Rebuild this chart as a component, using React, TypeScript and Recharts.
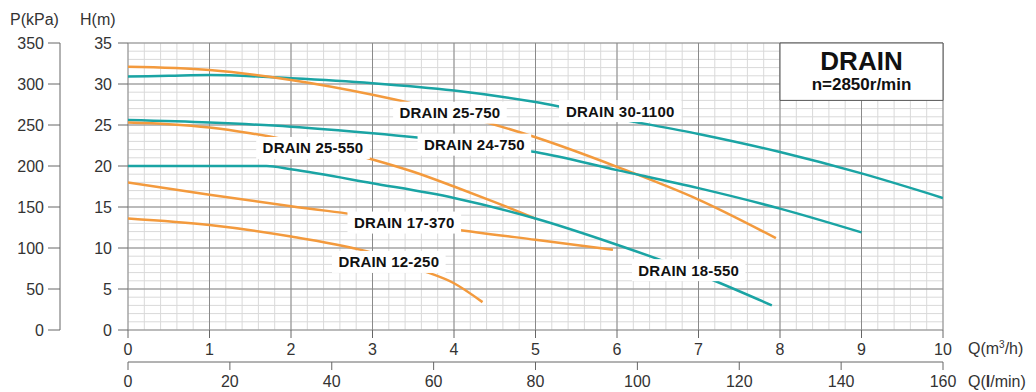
import {
  LineChart,
  Line,
  XAxis,
  YAxis,
  CartesianGrid,
  ReferenceArea,
  ReferenceDot
} from "recharts";

// pump curves, Q in m3/h, H in m
const drain301100 = [
  { q: 0, h: 30.9 }, { q: 0.5, h: 31.0 }, { q: 1, h: 31.1 }, { q: 2, h: 30.7 },
  { q: 3, h: 30.1 }, { q: 4, h: 29.2 }, { q: 5, h: 27.8 }, { q: 6, h: 25.8 },
  { q: 7, h: 23.9 }, { q: 8, h: 21.7 }, { q: 9, h: 19.1 }, { q: 10, h: 16.1 }
];
const drain25750 = [
  { q: 0, h: 32.1 }, { q: 1, h: 31.7 }, { q: 2, h: 30.5 }, { q: 3, h: 28.7 },
  { q: 4, h: 26.4 }, { q: 5, h: 23.5 }, { q: 6, h: 19.9 }, { q: 7, h: 15.9 },
  { q: 7.95, h: 11.2 }
];
const drain24750 = [
  { q: 0, h: 25.6 }, { q: 1, h: 25.3 }, { q: 2, h: 24.8 }, { q: 3, h: 24.0 },
  { q: 4, h: 23.0 }, { q: 5, h: 21.7 }, { q: 6, h: 19.5 }, { q: 7, h: 17.3 },
  { q: 8, h: 14.8 }, { q: 9, h: 11.9 }
];
const drain25550 = [
  { q: 0, h: 25.3 }, { q: 0.5, h: 25.1 }, { q: 1, h: 24.7 }, { q: 1.5, h: 24.0 },
  { q: 2, h: 23.1 }, { q: 2.5, h: 22.1 }, { q: 3, h: 20.8 }, { q: 3.5, h: 19.3 },
  { q: 4, h: 17.5 }, { q: 4.5, h: 15.6 }, { q: 5, h: 13.6 }
];
const drain18550 = [
  { q: 0, h: 20.0 }, { q: 1, h: 20.0 }, { q: 1.7, h: 20.0 }, { q: 2, h: 19.6 },
  { q: 3, h: 17.9 }, { q: 4, h: 16.1 }, { q: 5, h: 13.6 }, { q: 6, h: 10.4 },
  { q: 7, h: 6.8 }, { q: 7.9, h: 3.0 }
];
const drain17370 = [
  { q: 0, h: 18.0 }, { q: 1, h: 16.5 }, { q: 2, h: 15.1 }, { q: 3, h: 13.8 },
  { q: 4, h: 12.3 }, { q: 5, h: 11.0 }, { q: 5.95, h: 9.8 }
];
const drain12250 = [
  { q: 0, h: 13.6 }, { q: 1, h: 12.8 }, { q: 2, h: 11.4 }, { q: 3, h: 9.4 },
  { q: 3.6, h: 7.3 }, { q: 4, h: 5.7 }, { q: 4.35, h: 3.4 }
];

const qTicks = [0, 1, 2, 3, 4, 5, 6, 7, 8, 9, 10];
const lminTicks = [0, 20, 40, 60, 80, 100, 120, 140, 160];
const hTicks = [0, 5, 10, 15, 20, 25, 30, 35];
const pTicks = [0, 50, 100, 150, 200, 250, 300, 350];
const minorQ = Array.from({ length: 51 }, (_, i) => +(i * 0.2).toFixed(1));
const minorH = Array.from({ length: 36 }, (_, i) => i);

const curveTags = [
  { text: "DRAIN 30-1100", q: 6.04, h: 26.7 },
  { text: "DRAIN 25-750", q: 3.95, h: 26.5 },
  { text: "DRAIN 24-750", q: 4.25, h: 22.6 },
  { text: "DRAIN 25-550", q: 2.27, h: 22.2 },
  { text: "DRAIN 17-370", q: 3.39, h: 13.1 },
  { text: "DRAIN 12-250", q: 3.2, h: 8.3 },
  { text: "DRAIN 18-550", q: 6.88, h: 7.3 }
];

const ORANGE = "#F39A3D";
const TEAL = "#1AA4A4";
const tickStyle = { fontSize: 16, fill: "#333" };

const scaleOf = (axis: any) => {
  const s = axis && axis.scale;
  if (!s) return null;
  if (typeof s === "function") return s;
  if (typeof s.map === "function") return (v: number) => s.map(v);
  return null;
};

const CurveTag = ({ cx, cy, text }: { cx: number; cy: number; text: string }) => {
  const w = text.length * 8.8 + 8;
  return (
    <g>
      <rect x={cx - w / 2} y={cy - 11} width={w} height={22} fill="#fff" />
      <text
        x={cx}
        y={cy}
        textAnchor="middle"
        dominantBaseline="central"
        fontSize={15}
        fontWeight="bold"
        letterSpacing={0.2}
        fill="#111"
      >
        {text}
      </text>
    </g>
  );
};

const TitleTag = ({ cx, cy }: { cx: number; cy: number }) => (
  <g>
    <text x={cx} y={cy - 11} textAnchor="middle" dominantBaseline="central" fontSize={26} fontWeight="bold" fill="#111">
      DRAIN
    </text>
    <text x={cx} y={cy + 13} textAnchor="middle" dominantBaseline="central" fontSize={17} fontWeight="bold" fill="#111">
      n=2850r/min
    </text>
  </g>
);

const series = [
  { key: "30-1100", data: drain301100, color: TEAL },
  { key: "25-750", data: drain25750, color: ORANGE },
  { key: "24-750", data: drain24750, color: TEAL },
  { key: "25-550", data: drain25550, color: ORANGE },
  { key: "18-550", data: drain18550, color: TEAL },
  { key: "17-370", data: drain17370, color: ORANGE },
  { key: "12-250", data: drain12250, color: ORANGE }
];

const App = () => {
  return (
    <div
      style={{
        position: "absolute",
        left: 0,
        top: 0,
        width: 1036,
        height: 392,
        background: "#fff",
        fontFamily: "'Liberation Sans', Arial, sans-serif"
      }}
    >
      <LineChart width={1036} height={392} margin={{ top: 43, right: 93, bottom: 0, left: 0 }}>
        <XAxis
          type="number"
          dataKey="q"
          domain={[0, 10]}
          ticks={qTicks}
          allowDataOverflow
          height={32}
          tickSize={8}
          tickMargin={6}
          axisLine={false}
          tickLine={{ stroke: "#666" }}
          tick={tickStyle}
        />
        <XAxis
          xAxisId="lmin"
          type="number"
          dataKey="q"
          domain={[0, 160]}
          ticks={lminTicks}
          allowDataOverflow
          height={30}
          tickSize={8}
          tickMargin={6}
          axisLine={{ stroke: "#666" }}
          tickLine={{ stroke: "#666" }}
          tick={tickStyle}
        />
        <YAxis
          type="number"
          domain={[0, 35]}
          ticks={hTicks}
          allowDataOverflow
          width={68}
          tickSize={10}
          tickMargin={6}
          axisLine={false}
          tickLine={{ stroke: "#666" }}
          tick={tickStyle}
        />
        <YAxis
          yAxisId="p"
          type="number"
          domain={[0, 350]}
          ticks={pTicks}
          allowDataOverflow
          width={60}
          tickSize={12}
          tickMargin={4}
          axisLine={{ stroke: "#666" }}
          tickLine={{ stroke: "#666" }}
          tick={tickStyle}
        />
        <CartesianGrid
          stroke="#d9d9d9"
          strokeWidth={1}
          verticalCoordinatesGenerator={({ xAxis }: any) => {
            const sc = scaleOf(xAxis);
            return sc ? minorQ.map((v) => sc(v)) : [];
          }}
          horizontalCoordinatesGenerator={({ yAxis }: any) => {
            const sc = scaleOf(yAxis);
            return sc ? minorH.map((v) => sc(v)) : [];
          }}
        />
        <CartesianGrid stroke="#8a8a8a" strokeWidth={1} />

        {series.map((s) => (
          <Line
            key={s.key}
            data={s.data}
            dataKey="h"
            type="monotone"
            stroke={s.color}
            strokeWidth={2.5}
            dot={false}
            activeDot={false}
            isAnimationActive={false}
          />
        ))}

        <ReferenceArea x1={8} x2={10} y1={28} y2={35} fill="#fff" fillOpacity={1} stroke="#555" strokeWidth={1} />
        <ReferenceDot x={9} y={31.5} r={0} shape={(p: any) => <TitleTag cx={p.cx} cy={p.cy} />} />

        {curveTags.map((t) => (
          <ReferenceDot
            key={t.text}
            x={t.q}
            y={t.h}
            r={0}
            shape={(p: any) => <CurveTag cx={p.cx} cy={p.cy} text={t.text} />}
          />
        ))}
      </LineChart>

      <div style={{ position: "absolute", left: 10, top: 11, fontSize: 16, color: "#333" }}>P(kPa)</div>
      <div style={{ position: "absolute", left: 80, top: 11, fontSize: 16, color: "#333" }}>H(m)</div>
      <div style={{ position: "absolute", left: 968, top: 339, fontSize: 16, color: "#333" }}>
        Q(m<sup style={{ fontSize: 10 }}>3</sup>/h)
      </div>
      <div style={{ position: "absolute", left: 968, top: 373, fontSize: 16, color: "#333" }}>
        Q(<b>l</b>/min)
      </div>
    </div>
  );
};

export default App;
